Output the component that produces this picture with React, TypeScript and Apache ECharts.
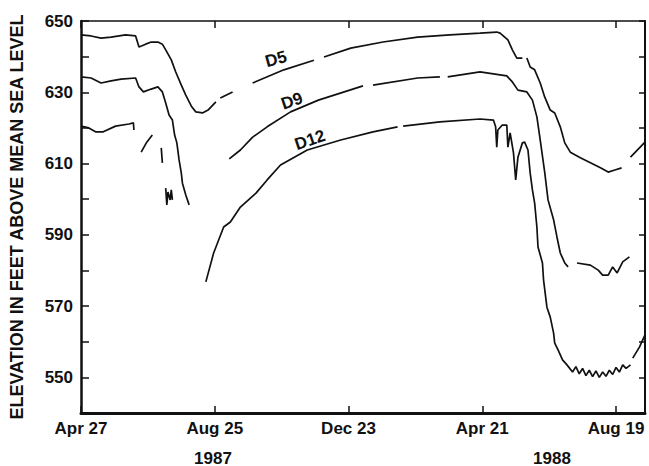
import React, { useEffect, useRef } from "react";
import * as echarts from "echarts";

// x values are days since Apr 27, 1987; null = break in the record
const tickDays = [0, 120, 240, 360, 480];
const tickLabels = ["Apr 27", "Aug 25", "Dec 23", "Apr 21", "Aug 19"];
const yearLabels = ["1987", "1988"];

const d5Days = [0, 9, 18, 27, 40, 49, 52, 58, 63, 69, 73, 76, 81, 85, 90, 94, 99, 103, 109, 114, 121, 123, 125, 136, 145, 154, 182, 209, 213, 218, 242, 271, 302, 331, 358, 373, 376, 383, 387, 391, 396, 398, 400, 403, 407, 412, 416, 421, 425, 430, 434, 439, 448, 457, 466, 473, 479, 485, 489, 493, 506];
const d5Vals = [646.1, 645.8, 645.2, 645.5, 646.1, 645.8, 642.7, 643.5, 644.1, 644.1, 643.5, 641.9, 639.1, 635.7, 632.0, 629.2, 626.1, 624.5, 624.2, 625.0, 627.3, null, 628.4, 630.1, null, 632.6, 636.3, 639.0, null, 639.9, 642.4, 644.1, 645.5, 646.1, 646.6, 646.9, 646.6, 644.7, 641.9, 639.6, 639.6, null, 639.6, 637.1, 636.3, 632.6, 628.7, 625.0, 624.2, 620.3, 615.8, 613.2, 611.6, 610.2, 608.8, 607.6, 608.2, 608.8, null, 611.8, 616.0];

const d9Days = [0, 9, 18, 27, 36, 49, 52, 56, 63, 69, 73, 76, 79, 82, 84, 86, 88, 90, 91, 94, 97, 115, 133, 143, 154, 167, 188, 213, 253, 257, 262, 302, 322, 325, 329, 358, 382, 387, 392, 400, 405, 409, 412, 416, 419, 424, 427, 430, 434, 437, 441, 445, 457, 464, 468, 473, 477, 481, 486, 492];
const d9Vals = [634.3, 634.0, 632.6, 633.2, 633.7, 634.0, 631.5, 630.1, 630.9, 631.5, 630.1, 627.0, 623.6, 622.2, 618.0, 615.8, 611.0, 607.3, 604.5, 601.2, 598.4, null, 611.3, 613.8, 617.4, 620.3, 624.5, 627.8, 631.8, null, 632.0, 634.0, 634.3, null, 634.3, 635.7, 634.6, 632.9, 630.6, 630.1, 627.8, 623.1, 616.6, 607.6, 599.8, 594.2, 589.4, 584.9, 582.1, 581.0, null, 582.1, 581.5, 580.1, 578.7, 578.7, 581.0, 579.3, 582.4, 583.8];

const d12Days = [0, 7, 13, 20, 31, 43, 47, 47.5, 50, 54, 59, 64, 68, 72, 73, 74, 76, 77, 78, 80, 81, 82, 95, 112, 119, 128, 134, 143, 157, 167, 179, 203, 233, 262, 284, 286, 289, 322, 358, 370, 372, 373, 374, 378, 382, 383, 385, 388, 390, 392, 396, 398, 401, 403, 405, 407, 409, 410, 414, 415, 418, 421, 424, 425, 428, 432, 436, 441, 444, 447, 450, 453, 456, 459, 462, 465, 468, 471, 474, 477, 480, 483, 486, 489, 493, 494, 495, 501, 506];
const d12Vals = [620.5, 620.0, 618.9, 618.9, 620.5, 621.1, 621.4, 619.4, null, 613.2, 616.0, 618.0, null, 614.4, 610.2, null, 603.1, 598.4, 602.0, 599.8, 602.6, 599.8, null, 576.8, 584.9, 592.2, 593.6, 597.8, 601.7, 605.4, 609.6, 613.8, 616.6, 618.9, 620.3, null, 620.5, 621.7, 622.5, 622.2, 620.3, 614.6, 619.4, 620.8, 620.8, 614.6, 618.6, 613.0, 605.4, 611.8, 615.8, 616.0, 613.8, 607.3, 602.6, 598.9, 592.2, 586.6, 582.1, 577.3, 569.7, 566.9, 562.4, 559.6, 557.7, 554.9, 553.5, 551.5, 553.0, 551.0, 552.5, 550.5, 552.0, 550.2, 551.8, 550.0, 551.5, 550.3, 552.0, 550.8, 552.8, 551.5, 553.5, 552.5, 553.5, null, 555.4, 558.5, 561.9];

const seriesNames = ["D5", "D9", "D12"];

const FONT = "'Liberation Sans', Arial, Helvetica, sans-serif";
const INK = "#111";

function toData(days: number[], vals: (number | null)[]) {
  return days.map((d, i) => (vals[i] === null ? [d, "-"] : [d, vals[i]]));
}

export default function App() {
  const ref = useRef<HTMLDivElement>(null);
  useEffect(() => {
    if (!ref.current) return;
    const chart = echarts.init(ref.current, null, { renderer: "svg" });
    const lineStyle = { color: INK, width: 1.7 };
    const mk = (name: string, days: number[], vals: (number | null)[]) => ({
      name,
      type: "line",
      data: toData(days, vals),
      showSymbol: false,
      symbol: "none",
      connectNulls: false,
      lineStyle,
      xAxisIndex: 0,
      yAxisIndex: 0,
    });
    chart.setOption({
      animation: false,
      backgroundColor: "#fff",
      textStyle: { fontFamily: FONT },
      grid: { left: 80, top: 21, right: 4, bottom: 53, containLabel: false },
      xAxis: [
        {
          type: "value",
          position: "bottom",
          min: 0,
          max: 506,
          interval: 120,
          axisLine: { lineStyle: { color: INK, width: 3 } },
          axisTick: { inside: true, length: 7, lineStyle: { color: INK, width: 1.5 } },
          axisLabel: {
            color: INK,
            fontSize: 17,
            fontWeight: "bold",
            fontFamily: FONT,
            margin: 7,
            showMaxLabel: false,
            formatter: (v: number) => {
              const i = tickDays.indexOf(v);
              return i >= 0 ? tickLabels[i] : "";
            },
          },
          splitLine: { show: false },
        },
        {
          type: "value",
          position: "top",
          min: 0,
          max: 506,
          interval: 120,
          axisLine: { onZero: false, lineStyle: { color: INK, width: 1.5 } },
          axisTick: { inside: true, length: 7, lineStyle: { color: INK, width: 1.5 } },
          axisLabel: { show: false },
          splitLine: { show: false },
        },
      ],
      yAxis: [
        {
          type: "value",
          position: "left",
          min: 540,
          max: 650,
          interval: 10,
          name: "ELEVATION IN FEET ABOVE MEAN SEA LEVEL",
          nameLocation: "middle",
          nameGap: 55,
          nameTextStyle: { color: INK, fontSize: 18, fontFamily: FONT, fontWeight: "bold" },
          axisLine: { lineStyle: { color: INK, width: 2.5 } },
          axisTick: { inside: true, length: 8, lineStyle: { color: INK, width: 1.5 } },
          axisLabel: {
            color: INK,
            fontSize: 17,
            fontWeight: "bold",
            fontFamily: FONT,
            margin: 8,
            formatter: (v: number) => ((v - 550) % 20 === 0 ? String(v) : ""),
          },
          splitLine: { show: false },
        },
        {
          type: "value",
          position: "right",
          min: 540,
          max: 650,
          interval: 10,
          axisLine: { onZero: false, lineStyle: { color: INK, width: 2 } },
          axisTick: { inside: true, length: 6, lineStyle: { color: INK, width: 1.5 } },
          axisLabel: { show: false },
          splitLine: { show: false },
        },
      ],
      series: [
        mk(seriesNames[0], d5Days, d5Vals),
        mk(seriesNames[1], d9Days, d9Vals),
        mk(seriesNames[2], d12Days, d12Vals),
      ],
      graphic: [
        { type: "text", x: 276, y: 59, rotation: 0.27, style: { text: seriesNames[0], fill: INK, font: `bold 17px ${FONT}`, align: "center", verticalAlign: "middle" } },
        { type: "text", x: 292, y: 101, rotation: 0.33, style: { text: seriesNames[1], fill: INK, font: `bold 17px ${FONT}`, align: "center", verticalAlign: "middle" } },
        { type: "text", x: 310, y: 140, rotation: 0.33, style: { text: seriesNames[2], fill: INK, font: `bold 17px ${FONT}`, align: "center", verticalAlign: "middle" } },
        { type: "text", x: 213, y: 458, style: { text: yearLabels[0], fill: INK, font: `bold 17px ${FONT}`, align: "center", verticalAlign: "middle" } },
        { type: "text", x: 552, y: 458, style: { text: yearLabels[1], fill: INK, font: `bold 17px ${FONT}`, align: "center", verticalAlign: "middle" } },
      ],
    });
    return () => chart.dispose();
  }, []);
  return (
    <div
      ref={ref}
      style={{ position: "fixed", left: 0, top: 0, width: 649, height: 466 }}
    />
  );
}
